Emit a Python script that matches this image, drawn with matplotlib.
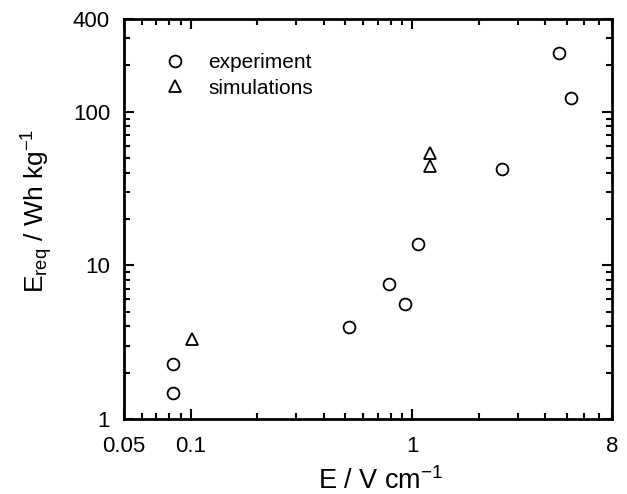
import matplotlib
matplotlib.use('Agg')
import matplotlib.pyplot as plt
from matplotlib.ticker import FixedLocator, NullFormatter
import numpy as np

plt.rcParams['font.family'] = ['Liberation Sans', 'DejaVu Sans']
plt.rcParams['mathtext.fontset'] = 'custom'
plt.rcParams['mathtext.rm'] = 'Liberation Sans'
plt.rcParams['mathtext.it'] = 'Liberation Sans'
plt.rcParams['axes.unicode_minus'] = False

# experiment data
exp_x = [0.083, 0.083, 0.52, 0.79, 0.93, 1.06, 2.56, 4.6, 5.2]
exp_y = [2.28, 1.47, 3.95, 7.5, 5.6, 13.8, 42.3, 239, 123]

# simulation data
sim_x = [0.101, 1.21, 1.21]
sim_y = [3.3, 54.0, 44.5]

xticks = [0.05, 0.1, 1, 8]
xticklabels = ['0.05', '0.1', '1', '8']
yticks = [1, 10, 100, 400]
yticklabels = ['1', '10', '100', '400']

fig = plt.figure(figsize=(6.27, 4.94), dpi=100)
ax = fig.add_axes([124/627, 75/494, 488/627, 400/494])

ax.plot(exp_x, exp_y, 'o', mfc='white', mec='black', mew=1.3, ms=8.5, ls='none', label='experiment')
ax.plot(sim_x, sim_y, '^', mfc='white', mec='black', mew=1.3, ms=9, ls='none', label='simulations')

ax.set_xscale('log')
ax.set_yscale('log')
ax.set_xlim(0.05, 8)
ax.set_ylim(1, 400)

ax.xaxis.set_major_locator(FixedLocator(xticks))
ax.set_xticklabels(xticklabels)
ax.yaxis.set_major_locator(FixedLocator(yticks))
ax.set_yticklabels(yticklabels)
xminor = [0.06, 0.07, 0.08, 0.09] + [k * 0.1 for k in range(2, 10)] + list(range(2, 8))
yminor = list(range(2, 10)) + list(range(20, 100, 10)) + [200, 300]
ax.xaxis.set_minor_locator(FixedLocator(xminor))
ax.yaxis.set_minor_locator(FixedLocator(yminor))
ax.xaxis.set_minor_formatter(NullFormatter())
ax.yaxis.set_minor_formatter(NullFormatter())

ax.tick_params(which='both', direction='in', top=True, right=True, width=1.5, labelsize=16)
ax.tick_params(which='major', length=7)
ax.tick_params(which='minor', length=4)
ax.tick_params(axis='x', which='major', pad=12)
ax.tick_params(axis='y', which='major', pad=10)
for s in ax.spines.values():
    s.set_linewidth(2)

ax.set_xlabel(r'E / V cm$^{\mathregular{-1}}$', fontsize=19.5)
ax.set_ylabel(r'E$_{\mathregular{req}}$ / Wh kg$^{\mathregular{-1}}$', fontsize=19)
ax.xaxis.set_label_coords(0.526, -0.12)
ax.yaxis.set_label_coords(-0.141, 0.52)

ax.legend(loc='upper left', frameon=False, fontsize=15, handletextpad=0.6,
          borderaxespad=0.0, labelspacing=0.3, bbox_to_anchor=(0.045, 0.935))

fig.savefig('out.png', dpi=100)
